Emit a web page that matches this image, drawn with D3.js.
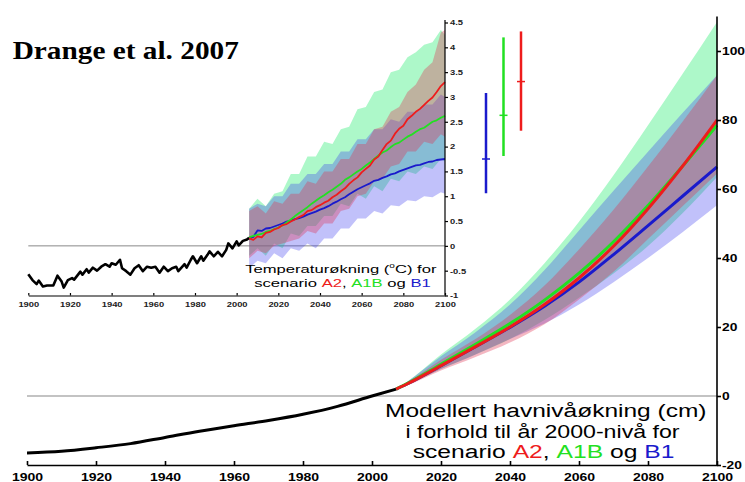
<!DOCTYPE html>
<html>
<head>
<meta charset="utf-8">
<script src="https://cdn.jsdelivr.net/npm/d3@7"></script>
<style>
body { margin: 0; background: #fff; }
svg { display: block; font-family: "Liberation Sans", Arial, sans-serif; }
</style>
</head>
<body>
<svg width="745" height="482"></svg>
<script>
// ---------- sea level (main chart), cm relative to year 2000 ----------
var seaYears = [1900, 1910, 1920, 1930, 1940, 1950, 1960, 1970, 1980, 1990, 2000, 2007];
var seaObs   = [-16.5, -16, -15, -13.8, -12, -10.2, -8.6, -7.1, -5.3, -3, 0, 2];

var scenYears = [2007, 2010, 2020, 2030, 2040, 2050, 2060, 2070, 2080, 2090, 2100];
var seaA2  = [2, 3.4, 8.8, 14.3, 20, 26.5, 34.2, 43.4, 54.3, 66.6, 80];
var seaA1B = [2, 3.5, 9.2, 15, 21, 27.8, 35.6, 44.7, 55.2, 66.6, 78.5];
var seaB1  = [2, 3.4, 8.8, 14.3, 19.9, 26, 33, 41, 49.4, 57.9, 66.4];

var seaA1BLo = [2, 3.1, 7.8, 12, 16.5, 22, 28.5, 35.5, 43.5, 53, 63.5];
var seaA1BHi = [2, 4, 12, 19.5, 28, 38.5, 50.5, 64, 78.5, 93.3, 108.4];
var seaB1Lo  = [2, 3.1, 7.8, 12, 16.5, 21, 26.5, 33, 40, 47.5, 55.3];
var seaB1Hi  = [2, 4, 11.5, 18.5, 26.5, 36.5, 48, 59.5, 70.8, 82, 93];
var seaA2Lo  = [2, 3, 7.4, 11.3, 15.5, 20.8, 28, 36, 45.5, 55, 64.5];
var seaA2Hi  = [2, 3.8, 10.5, 16.5, 23.5, 32, 42.5, 54, 66.5, 79.5, 93];

var seaTicksX = [1900, 1920, 1940, 1960, 1980, 2000, 2020, 2040, 2060, 2080, 2100];
var seaTicksY = [-20, 0, 20, 40, 60, 80, 100];

// ---------- temperature (inset), deg C ----------
var tempYears = [1900,1902,1904,1905,1907,1909,1912,1914,1916,1917,1919,1921,1922,1925,1926,1928,1929,1931,1933,1935,
                 1937,1939,1940,1942,1944,1945,1947,1949,1951,1953,1955,1957,1959,1961,1963,1965,1967,1969,1971,1972,
                 1975,1976,1978,1979,1981,1983,1984,1986,1987,1989,1991,1993,1995,1996,1998,2000,2001,2003,2005,2006];
var tempObs = [-0.57,-0.69,-0.77,-0.70,-0.82,-0.80,-0.80,-0.60,-0.72,-0.84,-0.69,-0.65,-0.68,-0.52,-0.58,-0.47,-0.54,-0.44,-0.50,-0.42,
               -0.37,-0.42,-0.35,-0.38,-0.28,-0.45,-0.51,-0.58,-0.45,-0.39,-0.51,-0.42,-0.44,-0.42,-0.54,-0.42,-0.51,-0.45,-0.42,-0.51,
               -0.37,-0.44,-0.28,-0.21,-0.35,-0.21,-0.30,-0.18,-0.11,-0.21,-0.12,-0.21,-0.08,0.05,-0.05,0.09,0.01,0.10,0.13,0.16];

var projYears = [2006,2008,2010,2012,2014,2016,2018,2020,2022,2024,2026,2028,2030,2032,2034,2036,2038,2040,2042,2044,2046,2048,2050,2052,
                 2054,2056,2058,2060,2062,2064,2066,2068,2070,2072,2074,2076,2078,2080,2082,2084,2086,2088,2090,2092,2094,2096,2098,2100];
var tempA2 = [0.15,0.12,0.19,0.17,0.26,0.28,0.33,0.36,0.42,0.44,0.49,0.53,0.58,0.62,0.70,0.72,0.78,0.82,0.87,0.91,0.98,1.03,1.10,1.16,
              1.25,1.32,1.38,1.48,1.55,1.62,1.74,1.80,1.93,2.05,2.12,2.26,2.36,2.42,2.55,2.62,2.70,2.76,2.84,2.92,2.99,3.10,3.22,3.30];
var tempA1B = [0.17,0.20,0.22,0.24,0.28,0.30,0.34,0.37,0.41,0.47,0.53,0.60,0.66,0.72,0.78,0.85,0.91,0.97,1.02,1.08,1.13,1.19,1.25,1.33,
               1.38,1.44,1.50,1.55,1.62,1.68,1.75,1.82,1.88,1.92,1.99,2.05,2.08,2.14,2.20,2.24,2.30,2.35,2.38,2.44,2.50,2.53,2.58,2.62];
var tempB1 = [0.15,0.18,0.31,0.30,0.35,0.36,0.39,0.42,0.45,0.49,0.51,0.54,0.56,0.59,0.63,0.66,0.69,0.73,0.76,0.80,0.85,0.89,0.94,0.98,
              1.04,1.09,1.14,1.18,1.22,1.26,1.31,1.33,1.37,1.40,1.44,1.46,1.50,1.53,1.56,1.59,1.62,1.63,1.66,1.69,1.70,1.73,1.74,1.75];

var bandYears = [2006,2010,2014,2018,2022,2026,2030,2034,2038,2042,2046,2050,2054,2058,2062,2066,2070,2074,2078,2082,2086,2090,2094,2098,2100];
var tA1BHi = [0.75,0.95,0.80,1.05,1.10,1.45,1.45,1.80,1.80,2.10,2.05,2.35,2.40,2.75,2.80,3.10,3.15,3.50,3.55,3.80,3.90,4.05,4.10,4.35,4.25];
var tA1BLo = [-0.20,-0.05,-0.20,0.05,-0.05,0.25,0.20,0.40,0.40,0.60,0.60,0.85,0.80,1.05,0.95,1.20,1.10,1.35,1.30,1.50,1.45,1.60,1.55,1.75,1.70];
var tA2Hi  = [0.70,0.80,0.65,0.90,0.85,1.05,1.05,1.30,1.25,1.50,1.50,1.75,1.75,2.05,2.05,2.35,2.40,2.70,2.80,3.10,3.25,3.55,3.70,4.30,4.35];
var tA2Lo  = [-0.25,-0.10,-0.15,0.00,0.05,0.10,0.15,0.30,0.25,0.45,0.45,0.70,0.75,1.00,1.05,1.30,1.35,1.60,1.65,1.90,1.90,2.10,2.05,2.25,2.20];
var tB1Hi  = [0.75,0.85,0.80,1.00,1.00,1.25,1.25,1.45,1.45,1.65,1.65,1.90,1.90,2.15,2.15,2.35,2.35,2.55,2.50,2.70,2.70,2.85,2.85,3.05,3.00];
var tB1Lo  = [-0.45,-0.30,-0.35,-0.15,-0.25,-0.05,-0.10,0.05,-0.05,0.15,0.15,0.35,0.35,0.55,0.55,0.70,0.65,0.82,0.80,0.92,0.90,1.00,0.98,1.08,1.05];

// 2100 ranges (low, best, high) shown as bars right of the inset
var barNames = ["B1", "A1B", "A2"];
var barLow   = [1.06, 1.81, 2.32];
var barBest  = [1.75, 2.63, 3.31];
var barHigh  = [3.08, 4.20, 4.32];

var tempTicksX = [1900, 1920, 1940, 1960, 1980, 2000, 2020, 2040, 2060, 2080, 2100];
var tempTicksY = [-1, -0.5, 0, 0.5, 1, 1.5, 2, 2.5, 3, 3.5, 4, 4.5];

var col = { A2: "#ee1c1c", A1B: "#22e022", B1: "#1a1acc" };
var fill = { A2: "#e03050", A1B: "#33ee77", B1: "#3333ee" };
var fillOp = { A2: 0.35, A1B: 0.4, B1: 0.3 };

var svg = d3.select("svg");

// ================= main chart =================
var x = d3.scaleLinear().domain([1900, 2100]).range([27, 717]);
var y = d3.scaleLinear().domain([-20, 110]).range([465, 16.5]);

var main = svg.append("g");

main.append("line")
    .attr("x1", x(1900)).attr("x2", x(2100))
    .attr("y1", y(0)).attr("y2", y(0))
    .style("stroke", "#888").style("stroke-width", 1.2);

function seaBand(lo, hi) {
    return d3.area()
        .x(function(d, i) { return x(scenYears[i]); })
        .y0(function(d, i) { return y(lo[i]); })
        .y1(function(d, i) { return y(hi[i]); })
        .curve(d3.curveMonotoneX)(scenYears);
}
main.append("path").attr("d", seaBand(seaA1BLo, seaA1BHi)).style("fill", fill.A1B).style("fill-opacity", fillOp.A1B);
main.append("path").attr("d", seaBand(seaB1Lo, seaB1Hi)).style("fill", fill.B1).style("fill-opacity", fillOp.B1);
main.append("path").attr("d", seaBand(seaA2Lo, seaA2Hi)).style("fill", fill.A2).style("fill-opacity", fillOp.A2);

function seaLine(xs, vals) {
    return d3.line()
        .x(function(d, i) { return x(xs[i]); })
        .y(function(d, i) { return y(vals[i]); })
        .curve(d3.curveMonotoneX)(xs);
}
main.append("path").attr("d", seaLine(seaYears, seaObs)).style("fill", "none").style("stroke", "#000").style("stroke-width", 3);
[["B1", seaB1], ["A1B", seaA1B], ["A2", seaA2]].forEach(function(s) {
    main.append("path").attr("d", seaLine(scenYears, s[1]))
        .style("fill", "none").style("stroke", col[s[0]]).style("stroke-width", 3);
});

var xAxis = main.append("g")
    .attr("transform", "translate(0," + y(-20) + ")")
    .call(d3.axisBottom(x).tickValues(seaTicksX).tickFormat(d3.format("d"))
        .tickSizeInner(-4).tickSizeOuter(0).tickPadding(7.5));
var yAxis = main.append("g")
    .attr("transform", "translate(" + x(2100) + ",0)")
    .call(d3.axisRight(y).tickValues(seaTicksY).tickFormat(function(d) { return String(d); })
        .tickSize(4).tickSizeOuter(0));
yAxis.select(".domain").attr("d", "M0," + y(110) + "V" + y(-20));
[xAxis, yAxis].forEach(function(a) {
    a.select(".domain").style("stroke-width", 1.6);
    a.selectAll(".tick line").style("stroke-width", 1.6);
    a.selectAll("text").style("font-size", "11.5px").style("font-weight", "bold").attr("fill", "#000");
});
xAxis.selectAll("text").attr("transform", "scale(1.22,1)");
yAxis.selectAll("text").attr("x", 5 / 1.2).attr("transform", "scale(1.2,1)");

// ================= inset chart =================
var ix = d3.scaleLinear().domain([1900, 2100]).range([28.3, 445]);
var iy = d3.scaleLinear().domain([-1, 4.5]).range([295.5, 22.5]);
var inset = svg.append("g");

inset.append("line")
    .attr("x1", ix(1900)).attr("x2", ix(2100))
    .attr("y1", iy(0)).attr("y2", iy(0))
    .style("stroke", "#888").style("stroke-width", 1);

function tBand(lo, hi) {
    return d3.area()
        .x(function(d, i) { return ix(bandYears[i]); })
        .y0(function(d, i) { return iy(lo[i]); })
        .y1(function(d, i) { return iy(hi[i]); })(bandYears);
}
inset.append("path").attr("d", tBand(tA1BLo, tA1BHi)).style("fill", fill.A1B).style("fill-opacity", fillOp.A1B);
inset.append("path").attr("d", tBand(tB1Lo, tB1Hi)).style("fill", fill.B1).style("fill-opacity", fillOp.B1);
inset.append("path").attr("d", tBand(tA2Lo, tA2Hi)).style("fill", fill.A2).style("fill-opacity", fillOp.A2);

function tLine(xs, vals) {
    return d3.line()
        .x(function(d, i) { return ix(xs[i]); })
        .y(function(d, i) { return iy(vals[i]); })(xs);
}
inset.append("path").attr("d", tLine(tempYears, tempObs))
    .style("fill", "none").style("stroke", "#000").style("stroke-width", 2.6).style("stroke-linejoin", "round");
[["B1", tempB1], ["A1B", tempA1B], ["A2", tempA2]].forEach(function(s) {
    inset.append("path").attr("d", tLine(projYears, s[1]))
        .style("fill", "none").style("stroke", col[s[0]]).style("stroke-width", 1.8).style("stroke-linejoin", "round");
});

// likely-range bars for 2100
var bx = d3.scalePoint().domain(barNames).range([486, 521]);
barNames.forEach(function(n, i) {
    inset.append("line").attr("x1", bx(n)).attr("x2", bx(n))
        .attr("y1", iy(barLow[i])).attr("y2", iy(barHigh[i]))
        .style("stroke", col[n]).style("stroke-width", 2.5);
    inset.append("line").attr("x1", bx(n) - 4).attr("x2", bx(n) + 4)
        .attr("y1", iy(barBest[i])).attr("y2", iy(barBest[i]))
        .style("stroke", col[n]).style("stroke-width", 1.5);
});

var ixAxis = inset.append("g")
    .attr("transform", "translate(0," + iy(-1) + ")")
    .call(d3.axisBottom(ix).tickValues(tempTicksX).tickFormat(d3.format("d"))
        .tickSizeInner(-2.5).tickSizeOuter(0).tickPadding(6));
var iyAxis = inset.append("g")
    .attr("transform", "translate(" + ix(2100) + ",0)")
    .call(d3.axisRight(iy).tickValues(tempTicksY).tickFormat(function(d) { return String(d); })
        .tickSize(3).tickSizeOuter(0));
iyAxis.select(".domain").attr("d", "M0,20V" + iy(-1));
[ixAxis, iyAxis].forEach(function(a) {
    a.select(".domain").style("stroke-width", 1.2);
    a.selectAll(".tick line").style("stroke-width", 1.2);
    a.selectAll("text").style("font-size", "7.5px").style("font-weight", "bold").attr("fill", "#222");
});
ixAxis.selectAll("text").attr("transform", "scale(1.25,1)");
iyAxis.selectAll("text").attr("x", 5 / 1.25).attr("transform", "scale(1.25,1)");

// ================= texts =================
// stretches a centred (or left) text horizontally to the width it has in the picture
function label(cx, yb, size, width, parts, opts) {
    opts = opts || {};
    var t = svg.append("text")
        .attr("y", yb)
        .attr("text-anchor", opts.anchor || "middle")
        .style("font-size", size + "px")
        .style("font-family", opts.family || null)
        .style("font-weight", opts.weight || null);
    parts.forEach(function(p) {
        var s = t.append("tspan").attr("fill", p.c || "#000").text(p.t);
        if (p.sup) s.attr("dy", -size * 0.4).style("font-size", (size * 0.6) + "px");
        if (p.down) s.attr("dy", size * 0.4);
    });
    var w = t.node().getBBox().width;
    t.attr("transform", "translate(" + cx + ",0) scale(" + (width / w) + ",1)");
}

label(12.7, 59.3, 26, 226.3, [{ t: "Drange et al. 2007" }],
      { anchor: "start", family: "'Liberation Serif', 'Times New Roman', serif", weight: "bold" });

label(340.8, 272.7, 11.5, 191.7, [{ t: "Temperaturøkning (" }, { t: "o", sup: true }, { t: "C) for", down: true }]);
label(342.5, 286.7, 11.5, 175, [{ t: "scenario " }, { t: "A2", c: col.A2 }, { t: ", " }, { t: "A1B", c: col.A1B },
                                 { t: " og " }, { t: "B1", c: col.B1 }]);

label(545.8, 416.7, 19, 321.7, [{ t: "Modellert havnivåøkning (cm)" }]);
label(542.5, 438.3, 19, 275, [{ t: "i forhold til år 2000-nivå for" }]);
label(543.5, 458.5, 19, 259, [{ t: "scenario " }, { t: "A2", c: col.A2 }, { t: ", " }, { t: "A1B", c: col.A1B },
                               { t: " og " }, { t: "B1", c: col.B1 }]);
</script>
</body>
</html>
